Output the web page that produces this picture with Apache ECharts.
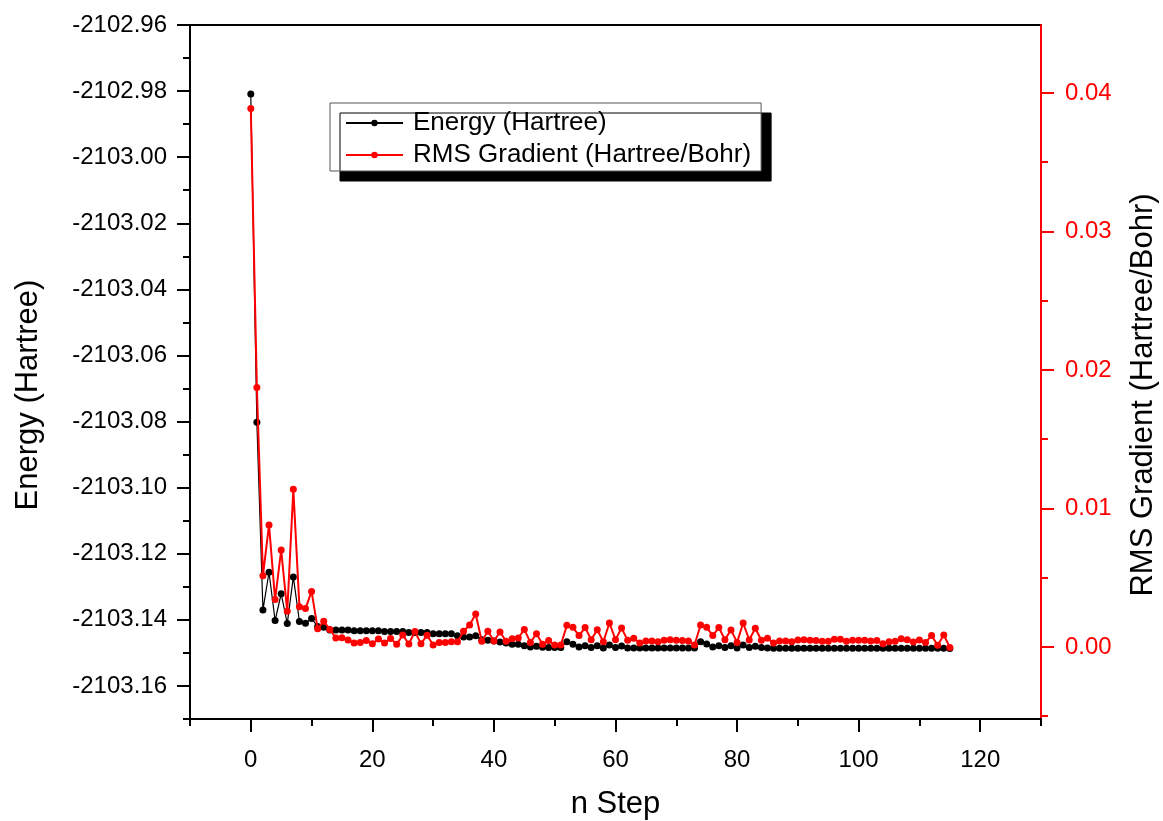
<!DOCTYPE html>
<html>
<head>
<meta charset="utf-8">
<script src="https://cdn.jsdelivr.net/npm/echarts@6/dist/echarts.min.js"></script>
<style>
html,body{margin:0;padding:0;background:#fff;}
#chart{width:1163px;height:821px;}
</style>
</head>
<body>
<div id="chart"></div>
<script>
// ---- data ----
const energy = [
  -2102.9809, -2103.0802, -2103.1370, -2103.1256, -2103.1402, -2103.1321, -2103.1411, -2103.1270, -2103.1405, -2103.1410,
  -2103.1396, -2103.1420, -2103.1422, -2103.1431, -2103.1431, -2103.1431, -2103.1431, -2103.1433, -2103.1433, -2103.1433,
  -2103.1433, -2103.1433, -2103.1435, -2103.1435, -2103.1435, -2103.1435, -2103.1438, -2103.1438, -2103.1438, -2103.1438,
  -2103.1442, -2103.1442, -2103.1442, -2103.1442, -2103.1448, -2103.1452, -2103.1452, -2103.1448, -2103.1460, -2103.1462,
  -2103.1464, -2103.1467, -2103.1470, -2103.1474, -2103.1474, -2103.1478, -2103.1482, -2103.1480, -2103.1483, -2103.1484,
  -2103.1484, -2103.1484, -2103.1466, -2103.1474, -2103.1482, -2103.1478, -2103.1484, -2103.1478, -2103.1485, -2103.1476,
  -2103.1484, -2103.1479, -2103.1485, -2103.1485, -2103.1485, -2103.1485, -2103.1485, -2103.1485, -2103.1485, -2103.1485,
  -2103.1485, -2103.1485, -2103.1485, -2103.1485, -2103.1466, -2103.1473, -2103.1482, -2103.1478, -2103.1484, -2103.1478,
  -2103.1485, -2103.1476, -2103.1484, -2103.1480, -2103.1484, -2103.1485, -2103.1486, -2103.1486, -2103.1486, -2103.1486,
  -2103.1486, -2103.1486, -2103.1486, -2103.1486, -2103.1486, -2103.1486, -2103.1486, -2103.1486, -2103.1486, -2103.1486,
  -2103.1486, -2103.1486, -2103.1486, -2103.1486, -2103.1486, -2103.1486, -2103.1486, -2103.1486, -2103.1486, -2103.1486,
  -2103.1486, -2103.1486, -2103.1486, -2103.1486, -2103.1486, -2103.1487
];
const rmsGradient = [
  0.03887, 0.01874, 0.00515, 0.00881, 0.00342, 0.00700, 0.00257, 0.01138, 0.00291, 0.00277,
  0.00401, 0.00132, 0.00185, 0.00127, 0.00065, 0.00067, 0.00051, 0.00029, 0.00033, 0.00046,
  0.00024, 0.00058, 0.00029, 0.00062, 0.00019, 0.00086, 0.00021, 0.00111, 0.00024, 0.00084,
  0.00014, 0.00033, 0.00033, 0.00038, 0.00038, 0.00113, 0.00159, 0.00238, 0.00041, 0.00113,
  0.00043, 0.00108, 0.00041, 0.00060, 0.00065, 0.00127, 0.00033, 0.00096, 0.00019, 0.00046,
  0.00014, 0.00014, 0.00156, 0.00142, 0.00082, 0.00140, 0.00053, 0.00125, 0.00038, 0.00173,
  0.00053, 0.00137, 0.00048, 0.00063, 0.00029, 0.00043, 0.00043, 0.00038, 0.00048, 0.00053,
  0.00048, 0.00046, 0.00043, 0.00014, 0.00159, 0.00142, 0.00082, 0.00140, 0.00053, 0.00123,
  0.00033, 0.00173, 0.00051, 0.00135, 0.00048, 0.00063, 0.00029, 0.00043, 0.00043, 0.00038,
  0.00051, 0.00053, 0.00048, 0.00046, 0.00041, 0.00041, 0.00055, 0.00055, 0.00041, 0.00048,
  0.00048, 0.00048, 0.00043, 0.00046, 0.00024, 0.00038, 0.00041, 0.00060, 0.00053, 0.00036,
  0.00051, 0.00033, 0.00082, 0.00012, 0.00087, -0.00003
];
const xMajorTicks = [0, 20, 40, 60, 80, 100, 120];
const xMinorTicks = [-10, 10, 30, 50, 70, 90, 110, 130];
const energyMajorTicks = [-2103.16, -2103.14, -2103.12, -2103.10, -2103.08, -2103.06, -2103.04, -2103.02, -2103.00, -2102.98, -2102.96];
const energyMinorTicks = [-2103.17, -2103.15, -2103.13, -2103.11, -2103.09, -2103.07, -2103.05, -2103.03, -2103.01, -2102.99, -2102.97];
const rmsMajorTicks = [0.00, 0.01, 0.02, 0.03, 0.04];
const rmsMinorTicks = [-0.005, 0.005, 0.015, 0.025, 0.035];

const seriesNames = ['Energy (Hartree)', 'RMS Gradient (Hartree/Bohr)'];

// ---- chart ----
const FONT = "'Liberation Sans', Arial, sans-serif";
const RED = '#ff0000';
const chart = echarts.init(document.getElementById('chart'), null, {renderer: 'canvas'});

const energyPts = energy.map((v, i) => [i, v]);
const rmsPts = rmsGradient.map((v, i) => [i, v]);

const X_MIN = -10, X_MAX = 130;
const E_MIN = -2103.17, E_MAX = -2102.96;
const R_MIN = -0.0052, R_MAX = 0.0449;

const option = {
  animation: false,
  backgroundColor: '#ffffff',
  textStyle: {fontFamily: FONT},
  grid: {left: 190, right: 122, top: 25, bottom: 102, show: true, borderColor: '#000', borderWidth: 2,
         containLabel: false, outerBoundsMode: 'none'},
  legend: {
    orient: 'vertical',
    left: 330, top: 103,
    data: seriesNames,
    backgroundColor: '#ffffff',
    borderColor: '#555555',
    borderWidth: 1,
    shadowColor: '#000000',
    shadowBlur: 0,
    shadowOffsetX: 10,
    shadowOffsetY: 10,
    padding: [7, 10, 3, 15],
    itemGap: 6,
    itemWidth: 57,
    itemHeight: 8,
    textStyle: {fontFamily: FONT, fontSize: 26, color: '#000', lineHeight: 26, padding: [0, 0, 0, 5]}
  },
  xAxis: [
    {
      type: 'value', position: 'bottom', min: X_MIN, max: X_MAX,
      name: 'n Step', nameLocation: 'middle', nameGap: 70,
      nameTextStyle: {fontFamily: FONT, fontSize: 31, color: '#000'},
      axisLine: {show: true, onZero: false, lineStyle: {color: '#000', width: 2}},
      axisTick: {show: true, inside: false, length: 13, customValues: xMajorTicks, lineStyle: {color: '#000', width: 2}},
      axisLabel: {show: true, customValues: xMajorTicks, margin: 29, fontFamily: FONT, fontSize: 24, color: '#000'},
      splitLine: {show: false}
    },
    {
      type: 'value', position: 'bottom', min: X_MIN, max: X_MAX,
      axisLine: {show: false, onZero: false},
      axisTick: {show: true, length: 7, customValues: xMinorTicks, lineStyle: {color: '#000', width: 2}},
      axisLabel: {show: false},
      splitLine: {show: false}
    }
  ],
  yAxis: [
    {
      type: 'value', position: 'left', min: E_MIN, max: E_MAX,
      name: 'Energy (Hartree)', nameLocation: 'middle', nameGap: 146, nameRotate: 90,
      nameTextStyle: {fontFamily: FONT, fontSize: 31, color: '#000', padding: [0, 46, 0, 0]},
      axisLine: {show: true, onZero: false, lineStyle: {color: '#000', width: 2}},
      axisTick: {show: true, length: 13, customValues: energyMajorTicks, lineStyle: {color: '#000', width: 2}},
      axisLabel: {show: true, customValues: energyMajorTicks, margin: 23, fontFamily: FONT, fontSize: 24, color: '#000',
        formatter: v => Number(v).toFixed(2)},
      splitLine: {show: false}
    },
    {
      type: 'value', position: 'right', min: R_MIN, max: R_MAX,
      name: 'RMS Gradient (Hartree/Bohr)', nameLocation: 'middle', nameGap: 87, nameRotate: 90,
      nameTextStyle: {fontFamily: FONT, fontSize: 31, color: '#000', padding: [0, 46, 0, 0]},
      axisLine: {show: true, onZero: false, lineStyle: {color: RED, width: 2}},
      axisTick: {show: true, length: 13, customValues: rmsMajorTicks, lineStyle: {color: RED, width: 2}},
      axisLabel: {show: true, customValues: rmsMajorTicks, margin: 24, fontFamily: FONT, fontSize: 24, color: RED,
        formatter: v => Number(v).toFixed(2)},
      splitLine: {show: false}
    },
    {
      type: 'value', position: 'left', min: E_MIN, max: E_MAX,
      axisLine: {show: false, onZero: false},
      axisTick: {show: true, length: 7, customValues: energyMinorTicks, lineStyle: {color: '#000', width: 2}},
      axisLabel: {show: false},
      splitLine: {show: false}
    },
    {
      type: 'value', position: 'right', min: R_MIN, max: R_MAX,
      axisLine: {show: false, onZero: false},
      axisTick: {show: true, length: 7, customValues: rmsMinorTicks, lineStyle: {color: RED, width: 2}},
      axisLabel: {show: false},
      splitLine: {show: false}
    }
  ],
  series: [
    {
      name: seriesNames[0], type: 'line', xAxisIndex: 0, yAxisIndex: 0,
      data: energyPts,
      symbol: 'circle', symbolSize: 7, showSymbol: true,
      lineStyle: {color: '#000', width: 1.2},
      itemStyle: {color: '#000'},
      z: 2
    },
    {
      name: seriesNames[1], type: 'line', xAxisIndex: 0, yAxisIndex: 1,
      data: rmsPts,
      symbol: 'circle', symbolSize: 7, showSymbol: true,
      lineStyle: {color: RED, width: 2},
      itemStyle: {color: RED},
      z: 3
    }
  ]
};
chart.setOption(option);
</script>
</body>
</html>
